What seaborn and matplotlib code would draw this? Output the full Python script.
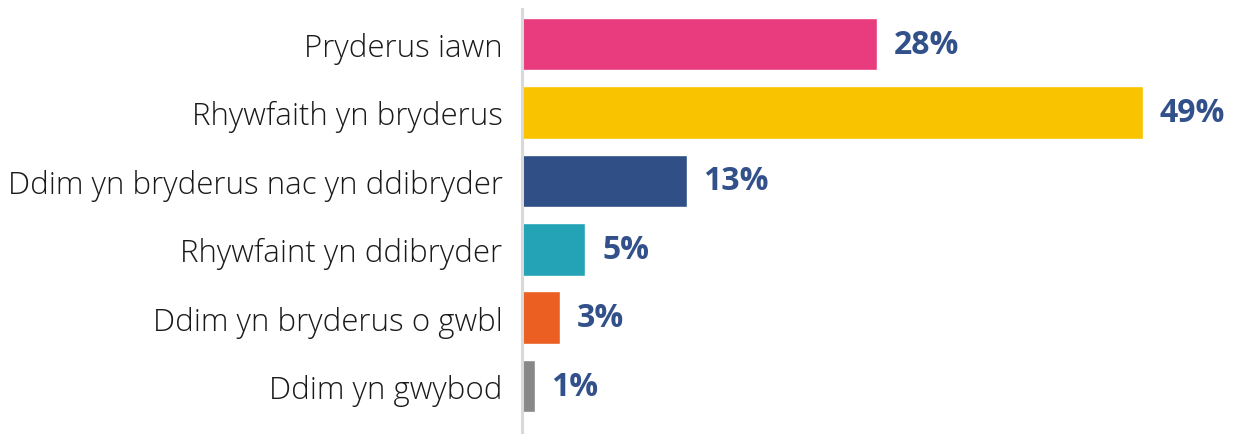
import matplotlib
matplotlib.use("Agg")
import pandas as pd
import seaborn as sns
import matplotlib.pyplot as plt

# Data
categories = ["Pryderus iawn", "Rhywfaith yn bryderus", "Ddim yn bryderus nac yn ddibryder",
              "Rhywfaint yn ddibryder", "Ddim yn bryderus o gwbl", "Ddim yn gwybod"]
values = [28, 49, 13, 5, 3, 1]
colours = ["#E83C7E", "#F9C300", "#2F4F86", "#23A3B5", "#EB5F23", "#888888"]

df = pd.DataFrame({"cat": categories, "val": values})

sns.set_style("white")
plt.rcParams["font.family"] = ["Open Sans", "DejaVu Sans"]

fig = plt.figure(figsize=(12.34, 4.35), dpi=100)
ax = fig.add_axes([0.423, 0, 0.565, 425 / 435])

sns.barplot(data=df, x="val", y="cat", hue="cat", palette=colours, legend=False,
            width=0.77, saturation=1, ax=ax)

# Waarde labels achter de balken
for i, v in enumerate(values):
    ax.annotate(f"{v}%", xy=(v, i), xytext=(12, 0), textcoords="offset points",
                ha="left", va="center", fontsize=23, fontweight="bold", color="#32508A")

ax.set_xlim(0, 55)
ax.set_ylim(5.70, -0.512)
ax.set_xlabel("")
ax.set_ylabel("")
ax.set_xticks([])
ax.tick_params(axis="y", length=0, pad=14, labelsize=22.5, labelcolor="#1a1a1a")
for lbl in ax.get_yticklabels():
    lbl.set_fontweight("light")

for s in ["top", "right", "bottom"]:
    ax.spines[s].set_visible(False)
ax.spines["left"].set_color("#d9d9d9")
ax.spines["left"].set_linewidth(2.2)

fig.savefig("out.png", dpi=100)
